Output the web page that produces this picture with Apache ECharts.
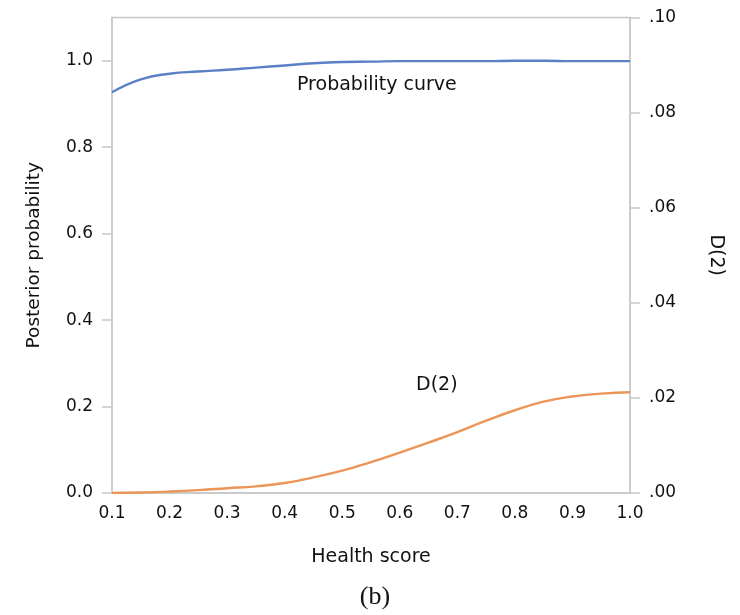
<!DOCTYPE html>
<html>
<head>
<meta charset="utf-8">
<script src="https://cdn.jsdelivr.net/npm/echarts@6/dist/echarts.min.js"></script>
<style>
html,body{margin:0;padding:0;background:#fff;}
#chart{width:740px;height:615px;}
</style>
</head>
<body>
<div id="chart"></div>
<script>
var healthScore = [0.1,0.15,0.2,0.25,0.3,0.35,0.4,0.45,0.5,0.55,0.6,0.65,0.7,0.75,0.8,0.85,0.9,0.95,1.0];
var probabilityCurve = [0.927,0.957,0.970,0.975,0.979,0.984,0.989,0.994,0.997,0.998,0.999,0.999,0.999,0.999,1.0,1.0,0.999,0.999,0.999];
var d2Values = [0,0.0001,0.0003,0.0006,0.001,0.0014,0.0021,0.0033,0.0047,0.0065,0.0085,0.0106,0.0128,0.0152,0.0174,0.0192,0.0203,0.0209,0.0212];
var leftTicks = [0,0.2,0.4,0.6,0.8,1.0];

var FONT = 'DejaVu Sans';
var GRAY = '#c8c8c8';
var INK = '#111';
function pairs(xs, ys){ return xs.map(function(x,i){ return [x, ys[i]]; }); }

var chart = echarts.init(document.getElementById('chart'), null, {renderer:'canvas'});
chart.setOption({
  animation:false,
  backgroundColor:'#fff',
  textStyle:{fontFamily:FONT},
  grid:{left:112, right:110, top:17.5, bottom:122, show:true, borderColor:GRAY, borderWidth:1.5, containLabel:false},
  xAxis:{
    type:'value', min:0.1, max:1.0, interval:0.1,
    name:'Health score', nameLocation:'middle', nameGap:55,
    nameTextStyle:{fontFamily:FONT, fontSize:19, color:INK},
    axisLine:{show:true, lineStyle:{color:GRAY, width:1.5}},
    axisTick:{show:false},
    splitLine:{show:false},
    axisLabel:{fontFamily:FONT, fontSize:17, color:INK, margin:12,
      formatter:function(v){ return (Math.round(v*10)/10).toFixed(1); }}
  },
  yAxis:[{
    type:'value', min:0, max:1.1, position:'left',
    name:'Posterior probability', nameLocation:'middle', nameGap:68, nameRotate:90,
    nameTextStyle:{fontFamily:FONT, fontSize:18.5, color:INK},
    axisLine:{show:true, lineStyle:{color:GRAY, width:1.5}},
    axisTick:{show:true, length:10, customValues:leftTicks, lineStyle:{color:GRAY, width:1.5}},
    splitLine:{show:false},
    axisLabel:{fontFamily:FONT, fontSize:17, color:INK, margin:19, customValues:leftTicks,
      formatter:function(v){ return v.toFixed(1); }}
  },{
    type:'value', min:0, max:0.1, interval:0.02, position:'right',
    name:'D(2)', nameLocation:'middle', nameGap:76, nameRotate:-90,
    nameTextStyle:{fontFamily:FONT, fontSize:19, color:INK},
    axisLine:{show:true, lineStyle:{color:GRAY, width:1.5}},
    axisTick:{show:true, length:10, lineStyle:{color:GRAY, width:1.5}},
    splitLine:{show:false},
    axisLabel:{fontFamily:FONT, fontSize:17, color:INK, margin:19,
      formatter:function(v){ return v.toFixed(2).replace(/^0/,''); }}
  }],
  series:[{
    name:'Probability curve', type:'line', yAxisIndex:0, smooth:true, showSymbol:false,
    lineStyle:{color:'#5a80c6', width:2.4}, itemStyle:{color:'#5a80c6'},
    data:pairs(healthScore, probabilityCurve)
  },{
    name:'D(2)', type:'line', yAxisIndex:1, smooth:true, showSymbol:false,
    lineStyle:{color:'#eb9558', width:2.4}, itemStyle:{color:'#eb9558'},
    data:pairs(healthScore, d2Values)
  }],
  graphic:[
    {type:'text', style:{x:297, y:85, text:'Probability curve', textAlign:'left', textVerticalAlign:'middle', font:'19px "DejaVu Sans"', fill:INK}},
    {type:'text', style:{x:416, y:385, text:'D(2)', textAlign:'left', textVerticalAlign:'middle', font:'19px "DejaVu Sans"', fill:INK}},
    {type:'text', style:{x:375, y:597, text:'(b)', textAlign:'center', textVerticalAlign:'middle', font:'26px "Liberation Serif"', fill:INK}}
  ]
});
</script>
</body>
</html>
